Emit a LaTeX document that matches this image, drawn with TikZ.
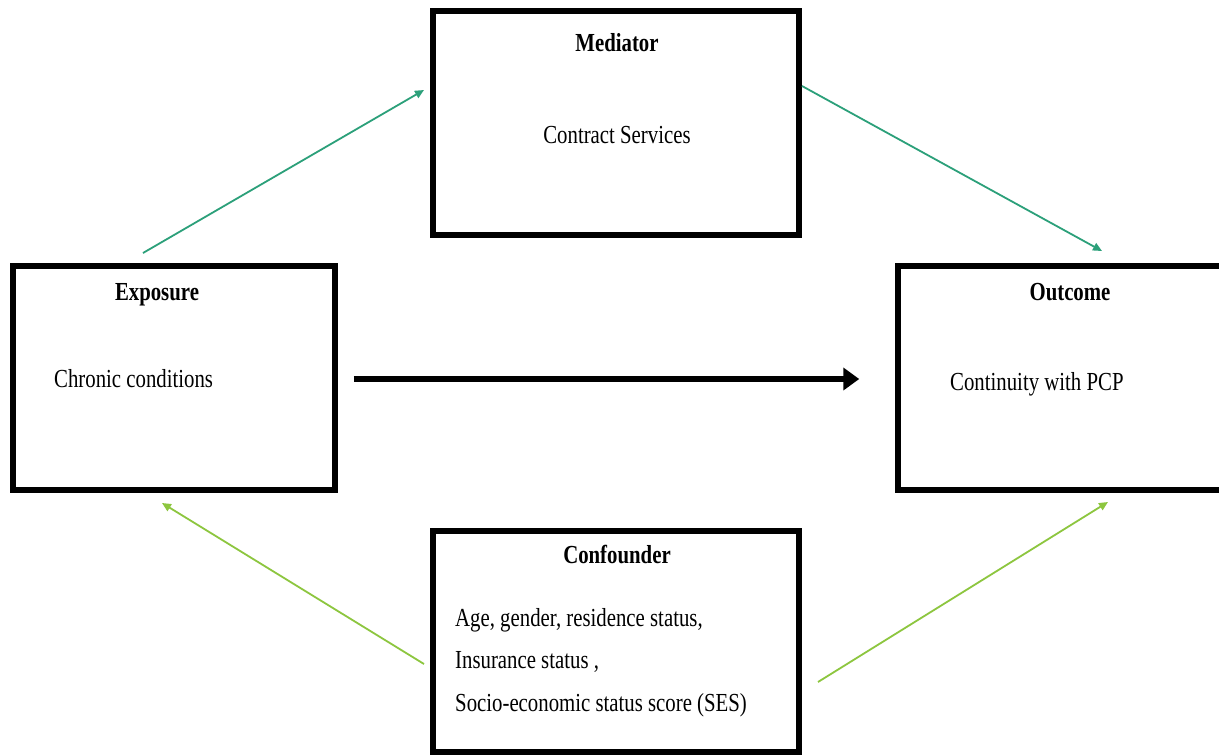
\documentclass[tikz,border=0pt]{standalone}
\usepackage{fontspec}
\setmainfont{Liberation Serif}[FakeStretch=0.8]
\usetikzlibrary{arrows.meta}
\definecolor{teal1}{HTML}{2CA07A}
\definecolor{green1}{HTML}{8DC63F}
\tikzset{
  box/.style={draw=black, line width=5.5pt, inner sep=0pt, fill=white},
  head/.style={font=\fontsize{26}{30}\selectfont\bfseries, anchor=base, inner sep=0pt},
  body/.style={font=\fontsize{26}{30}\selectfont, inner sep=0pt},
  thinarrow/.style={line width=1.8pt, -{Triangle[length=9pt,width=8pt]}},
  mainarrow/.style={line width=6pt, -{Triangle[length=16pt,width=22pt]}},
}
\begin{document}
\begin{tikzpicture}[x=1pt,y=-1pt]
\useasboundingbox (0,0) rectangle (1219,755);
\clip (0,0) rectangle (1219,755);
\fill[white] (0,0) rectangle (1219,755);
% boxes
\node[box, minimum width=366pt, minimum height=224pt] (med) at (616,123) {};
\node[box, minimum width=322pt, minimum height=224pt] (exp) at (174,378) {};
\node[box, minimum width=326pt, minimum height=224pt] (out) at (1061,378) {};
\node[box, minimum width=366pt, minimum height=221pt] (con) at (616,641.5) {};
% texts
\node[head] (medh) at (617,51) {Mediator};
\node[body, anchor=base] (medt) at (617,143) {Contract Services};
\node[head] (exph) at (157,300) {Exposure};
\node[body, anchor=base west] (expt) at (54,387) {Chronic conditions};
\node[head] (outh) at (1070,300) {Outcome};
\node[body, anchor=base west] (outt) at (950,390) {Continuity with PCP};
\node[head] (conh) at (617,563) {Confounder};
\node[body, anchor=base west] (cont1) at (455,626) {Age, gender, residence status,};
\node[body, anchor=base west] (cont2) at (455,668) {Insurance status ,};
\node[body, anchor=base west] (cont3) at (455,711) {Socio-economic status score (SES)};
% connector ends
\coordinate (a1s) at (143,253);
\coordinate (a1e) at (424,90);
\coordinate (a2s) at (802,86);
\coordinate (a2e) at (1102,251);
\coordinate (a3s) at (424,664);
\coordinate (a3e) at (162,503);
\coordinate (a4s) at (818,682);
\coordinate (a4e) at (1108,502);
% arrows
\draw[thinarrow, teal1] (a1s) -- (a1e);
\draw[thinarrow, teal1] (a2s) -- (a2e);
\draw[thinarrow, green1] (a3s) -- (a3e);
\draw[thinarrow, green1] (a4s) -- (a4e);
\draw[mainarrow] ([xshift=16pt,yshift=-1pt]exp.east) -- ([xshift=-36pt,yshift=-1pt]out.west);
\end{tikzpicture}
\end{document}
